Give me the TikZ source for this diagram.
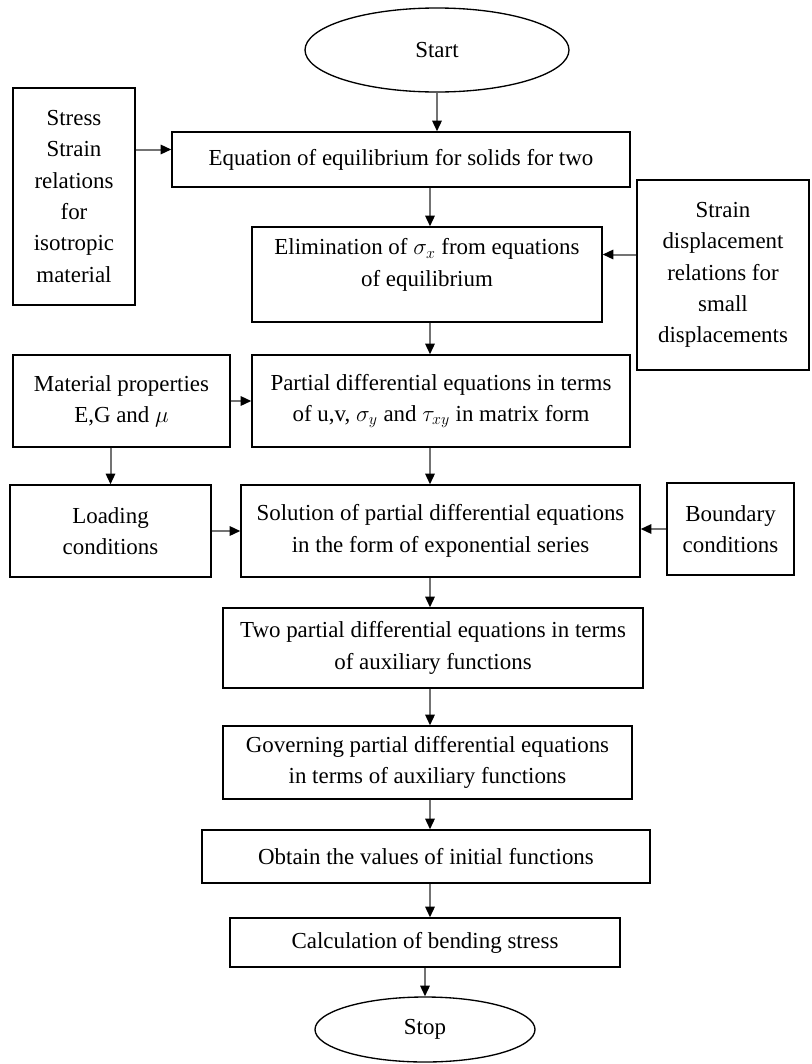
\documentclass[tikz,border=0pt]{standalone}
\usepackage{fontspec}
\setmainfont{Liberation Serif}
\usetikzlibrary{shapes.geometric,arrows.meta}

\begin{document}
\begin{tikzpicture}[x=0.75pt,y=-0.75pt]
\tikzset{
  every node/.style={font=\fontsize{17.2}{23.5}\selectfont},
  box size/.style 2 args={minimum width=#1*0.75pt,minimum height=#2*0.75pt},
  flow box/.style={draw,line width=1pt,align=center,inner sep=0pt},
  flow end/.style={draw,ellipse,line width=1pt,inner sep=0pt},
  flow arrow/.style={draw=black!55,line width=1.5pt,-{Triangle[length=8pt,width=7pt,black]}},
}
\useasboundingbox (0,0) rectangle (811,1064);
\coordinate (col) at (430,0);

\node[flow end,box size={264}{84}] (start) at (437,50) {Start};
\node[flow box,box size={122}{217}] (stress) at (74,196.5) {Stress\\Strain\\relations\\for\\isotropic\\material};
\node[flow box,box size={458}{55}] (eq) at (401,159.5) {Equation of equilibrium for solids for two};
\node[flow box,box size={350}{95}] (elim) at (427,274.5) {Elimination of $\sigma_x$ from equations\\of equilibrium\\[-5.5pt]};
\node[flow box,box size={172}{190}] (strainD) at (723,275) {Strain\\displacement\\relations for\\small\\displacements};
\node[flow box,box size={217}{92}] (matprop) at (121.5,401) {Material properties\\E,G and $\mu$};
\node[flow box,box size={378}{92}] (partial) at (441,401) {Partial differential equations in terms\\of u,v, $\sigma_y$ and $\tau_{xy}$ in matrix form};
\node[flow box,box size={201}{92}] (loading) at (110.5,531) {Loading\\conditions};
\node[flow box,box size={399}{92}] (solution) at (440.5,531) {Solution of partial differential equations\\in the form of exponential series};
\node[flow box,box size={127}{92}] (boundary) at (730.5,529) {Boundary\\conditions};
\node[flow box,box size={420}{80}] (twoP) at (433,648) {Two partial differential equations in terms\\of auxiliary functions};
\node[flow box,box size={409}{73}] (gov) at (427.5,762.5) {Governing partial differential equations\\in terms of auxiliary functions};
\node[flow box,box size={448}{53}] (obtain) at (426,856.5) {Obtain the values of initial functions};
\node[flow box,box size={390}{49}] (calc) at (425,942.5) {Calculation of bending stress};
\node[flow end,box size={220}{65}] (stop) at (425,1029.5) {Stop};

% main column
\draw[flow arrow] (start.south) -- (start.south |- eq.north);
\draw[flow arrow] (eq.south -| col) -- (elim.north -| col);
\draw[flow arrow] (elim.south -| col) -- (partial.north -| col);
\draw[flow arrow] (partial.south -| col) -- (solution.north -| col);
\draw[flow arrow] (solution.south -| col) -- (twoP.north -| col);
\draw[flow arrow] (twoP.south -| col) -- (gov.north -| col);
\draw[flow arrow] (gov.south -| col) -- (obtain.north -| col);
\draw[flow arrow] (obtain.south -| col) -- (calc.north -| col);
\draw[flow arrow] (calc.south -| stop.north) -- (stop.north);

% side inputs
\draw[flow arrow] ([yshift=7.5pt]eq.west -| stress.east) -- ([yshift=7.5pt]eq.west);
\draw[flow arrow] ([yshift=15pt]elim.east -| strainD.west) -- ([yshift=15pt]elim.east);
\draw[flow arrow] (matprop.east) -- (partial.west);
\draw[flow arrow] (matprop.south -| loading.north) -- (loading.north);
\draw[flow arrow] (loading.east) -- (loading.east -| solution.west);
\draw[flow arrow] (boundary.west) -- (boundary.west -| solution.east);
\end{tikzpicture}
\end{document}
